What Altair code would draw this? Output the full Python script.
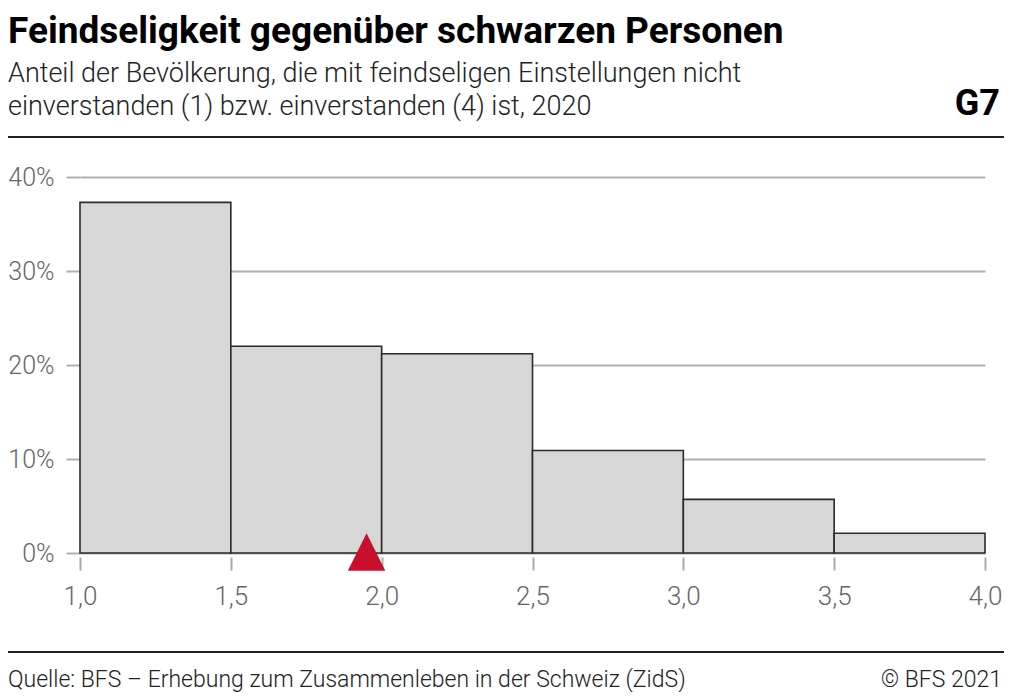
import altair as alt
import pandas as pd

# Data
bin_start = [1.0, 1.5, 2.0, 2.5, 3.0, 3.5]
bin_end = [1.5, 2.0, 2.5, 3.0, 3.5, 4.0]
share = [37.3, 22.0, 21.2, 10.9, 5.7, 2.1]
mean_value = [1.95]

title_text = "Feindseligkeit gegenüber schwarzen Personen"
subtitle_lines = [
    "Anteil der Bevölkerung, die mit feindseligen Einstellungen nicht",
    "einverstanden (1) bzw. einverstanden (4) ist, 2020",
]
chart_code = "G7"
source_text = "Quelle: BFS – Erhebung zum Zusammenleben in der Schweiz (ZidS)"
copyright_text = "© BFS 2021"

bars_df = pd.DataFrame({"start": bin_start, "end": bin_end, "share": share})
mean_df = pd.DataFrame({"mean": mean_value})
one = pd.DataFrame({"a": [0]})

FONT = "Roboto"
W, H = 905, 376

x_scale = alt.Scale(domain=[1.0, 4.0], nice=False, zero=False)
y_scale = alt.Scale(domain=[0, 40], nice=False)

bars = alt.Chart(bars_df).mark_rect(
    fill="#d6d7d6", stroke="#2b2b2b", strokeWidth=1.6
).encode(
    x=alt.X("start:Q", scale=x_scale, axis=alt.Axis(
        values=[1.0, 1.5, 2.0, 2.5, 3.0, 3.5, 4.0],
        labelExpr="replace(format(datum.value, '.1f'), '.', ',')",
        domain=False, grid=False, ticks=True, tickSize=13, offset=4,
        tickColor="#aaaaaa", tickWidth=2, labelPadding=13,
        labelFont=FONT, labelFontSize=26, labelFontWeight=300,
        labelColor="#666666", title=None, labelFlush=False,
    )),
    x2="end:Q",
    y=alt.Y("share:Q", scale=y_scale, axis=alt.Axis(
        values=[0, 10, 20, 30, 40],
        labelExpr="format(datum.value, 'd') + '%'",
        domain=False, grid=True, gridColor="#b0b0b0", gridWidth=2,
        ticks=True, tickSize=14, tickColor="#b0b0b0", tickWidth=2,
        labelPadding=12, labelFont=FONT, labelFontSize=25,
        labelFontWeight=300, labelColor="#666666", title=None,
    )),
    y2=alt.datum(0),
)

marker = alt.Chart(mean_df).mark_point(
    shape="M0,-1L1,1L-1,1Z", filled=True, fill="#c8102e", opacity=1,
    size=1406, strokeWidth=0,
).encode(
    x=alt.X("mean:Q", scale=x_scale),
    y=alt.value(H - 1),
)

def txt(text, x, y, size, weight=300, align="left", color="#222222"):
    return alt.Chart(one).mark_text(
        text=text, font=FONT, fontSize=size, fontWeight=weight,
        align=align, baseline="alphabetic", color=color,
    ).encode(x=alt.value(x), y=alt.value(y))

title = txt(title_text, -72, -134, 37, weight=700, color="#000000")
sub1 = txt(subtitle_lines[0], -72, -95, 27)
sub2 = txt(subtitle_lines[1], -72, -62, 27)
code = txt(chart_code, 920, -62, 36, weight=700, align="right", color="#000000")
src = txt(source_text, -72, 510, 23)
copy = txt(copyright_text, 922, 510, 23, align="right")

top_rule = alt.Chart(one).mark_rule(color="#222222", strokeWidth=2).encode(
    x=alt.value(-80), x2=alt.value(930), y=alt.value(-40)
)
bottom_rule = alt.Chart(one).mark_rule(color="#222222", strokeWidth=2).encode(
    x=alt.value(-80), x2=alt.value(930), y=alt.value(475)
)

chart = alt.layer(
    bars, marker, title, sub1, sub2, code, src, copy, top_rule, bottom_rule
).properties(
    width=W, height=H,
    autosize=alt.AutoSizeParams(type="none"),
    padding={"left": 72, "top": 169, "right": 19, "bottom": 139},
).configure_view(stroke=None)

chart.save("out.html", embed_options={"renderer": "svg", "actions": False})
